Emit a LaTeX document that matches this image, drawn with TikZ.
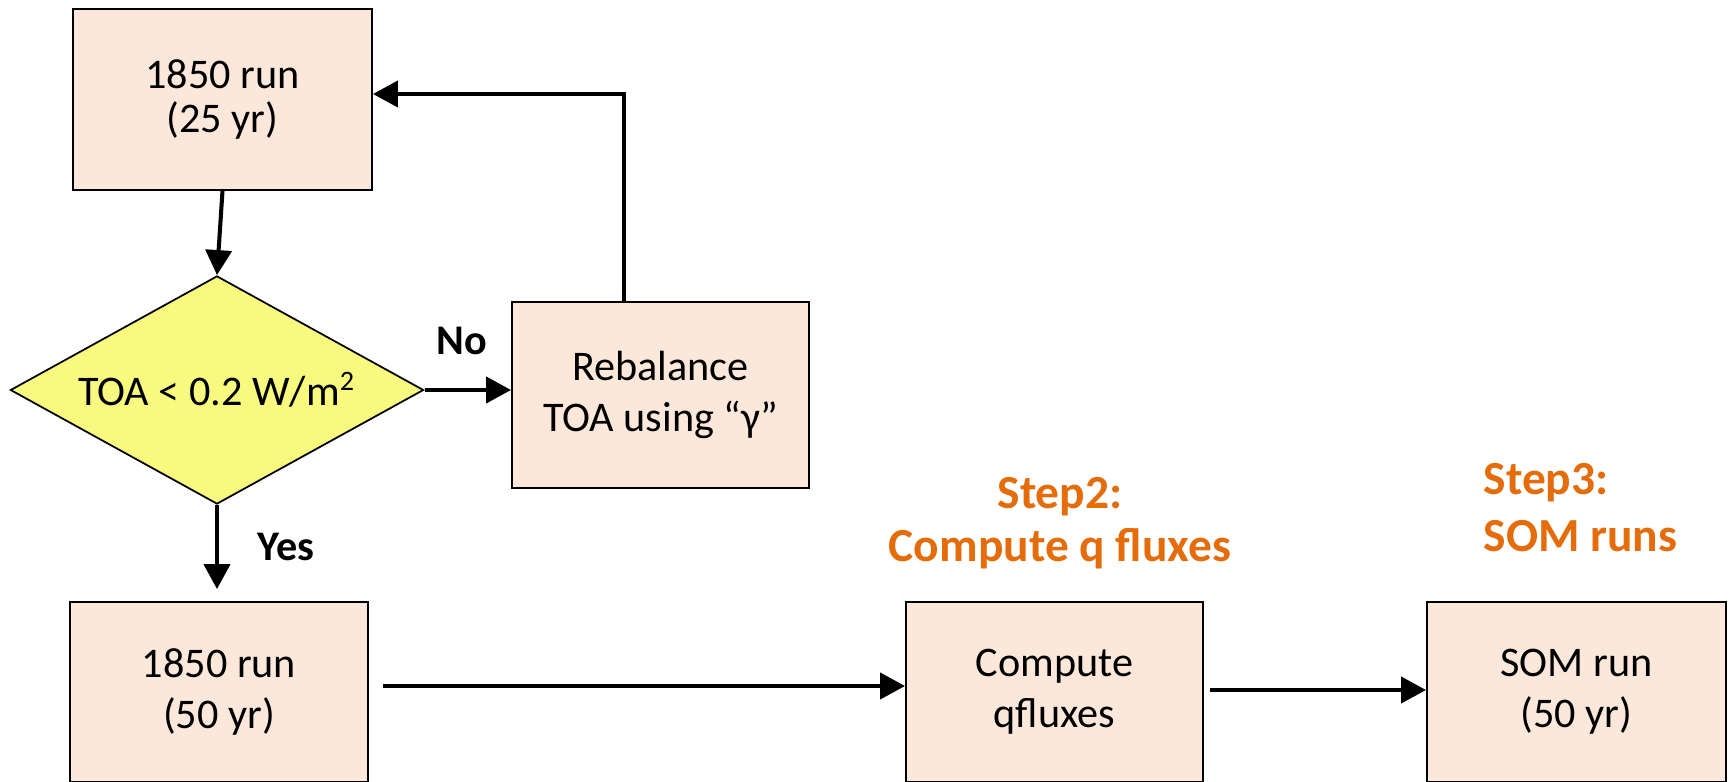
\documentclass[tikz,border=0pt]{standalone}
\usepackage{fontspec}
\setmainfont{Carlito}
\usetikzlibrary{shapes.geometric,arrows.meta}

\definecolor{boxfill}{HTML}{FCE8DA}
\definecolor{diafill}{HTML}{F8FA80}
\definecolor{steporange}{HTML}{E46C0A}

\begin{document}
\begin{tikzpicture}[
    x=0.01cm, y=-0.01cm,
    every node/.style={font=\fontsize{12}{14.6}\selectfont},
    >={Triangle[length=7.1pt,width=7.4pt]},
    box/.style={draw=black, line width=0.5pt, fill=boxfill, align=center,
        minimum width=2.98cm, minimum height=1.8cm, inner sep=0pt},
    decision/.style={diamond, draw=black, line width=0.5pt, fill=diafill,
        inner sep=0pt, shape aspect=1.81, minimum width=4.13cm, minimum height=2.28cm},
    arr/.style={->, line width=1.15pt},
    answer/.style={font=\fontsize{12}{14}\selectfont\bfseries},
    steplabel/.style={text=steporange, inner sep=0pt},
]

% Canvas (bottom boxes run off the lower edge)
\useasboundingbox (0,0) rectangle (1729,781);
\clip (0,0) rectangle (1729,781);

% === Step 1: spin-up loop ===
\node[box, minimum width=2.99cm, minimum height=1.81cm,
    font=\fontsize{12}{12.7}\selectfont] (spinup) at (222.5,99.5) {1850 run\\(25 yr)};
\node[decision] (toa) at (217,390) {TOA < 0.2 W/m\textsuperscript{2}};
\node[box, minimum width=2.97cm, minimum height=1.86cm] (rebal) at (660.5,395)
    {Rebalance\\TOA using “γ”};

% === Bottom row ===
\node[box] (ctrl) at (219,692) {1850 run\\(50 yr)};
\node[box, minimum width=2.97cm] (qflux) at (1054.5,692) {Compute\\qfluxes};
\node[box, minimum width=2.99cm] (som) at (1576.5,692) {SOM run\\(50 yr)};

% Branch and step labels
\node[answer] (no) at (462,341) {No};
\node[answer] (yes) at (286,547) {Yes};
\node[steplabel, align=center, font=\fontsize{13.5}{15.1}\selectfont\bfseries]
    (step2) at (1060,523) {Step2:\\Compute q fluxes};
\node[steplabel, align=left, anchor=west, font=\fontsize{13.5}{16.2}\selectfont\bfseries]
    (step3) at (1483,508) {Step3:\\SOM runs};

% === Connectors ===
\draw[arr] (spinup.south) -- (toa.north);
\draw[arr, shorten >=0.12cm] (toa.south) -- (toa.south |- ctrl.north);
\draw[arr] (toa.east) -- (toa.east -| rebal.west);
\coordinate (loop) at (624,94);
\draw[arr] (loop |- rebal.north) -- (loop) -- (loop -| spinup.east);
\draw[arr, shorten <=0.14cm] ([yshift=0.06cm]ctrl.east) -- ([yshift=0.06cm]qflux.west);
\draw[arr, shorten <=0.06cm] ([yshift=0.02cm]qflux.east) -- ([yshift=0.02cm]som.west);

\end{tikzpicture}
\end{document}
